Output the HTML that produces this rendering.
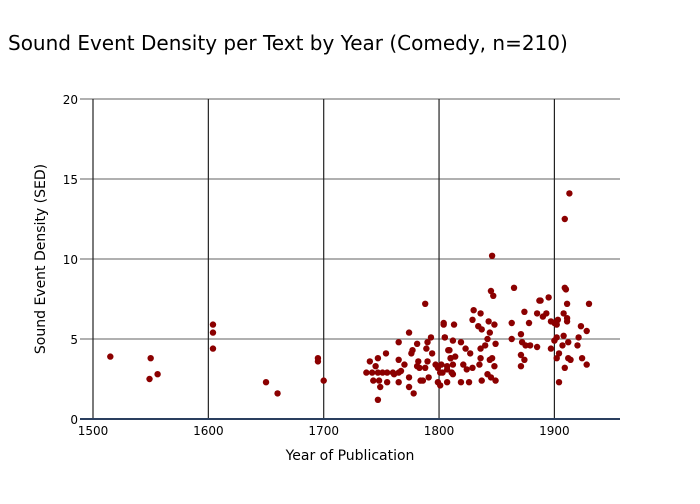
<!DOCTYPE html>
<html><head><meta charset="utf-8"><style>
body{margin:0;background:#fff;font-family:"DejaVu Sans","Liberation Sans",sans-serif}
</style></head><body>
<svg id="chart" width="700" height="500" xmlns="http://www.w3.org/2000/svg">
<rect width="700" height="500" fill="#fff"/>
<text x="8" y="50" font-size="20" fill="#000">Sound Event Density per Text by Year (Comedy, n=210)</text>
<g id="grid"></g><g id="ticks"></g><g id="points"></g>
<text x="350" y="460" font-size="14" text-anchor="middle" fill="#000">Year of Publication</text>
<text transform="translate(45,259) rotate(-90)" font-size="14" text-anchor="middle" fill="#000">Sound Event Density (SED)</text>
</svg>
<script>
const years=[1515,1550,1549,1556,1604,1604,1604,1650,1660,1695,1695,1700,1846,1913,1909,1788,
1737,1740,1742,1743,1745,1747,1747,1748,1749,1747,1751,1755,1754,1755,1760,1761,1765,1765,1765,1765,1767,1770,1774,1774,1774,1776,1777,1778,1781,1781,1782,1783,1784,1786,1788,1789,1790,1790,1791,1793,1794,1797,1799,1799,1801,1802,1804,1805,1807,1808,1810,1811,
1830,1836,1804,1813,1829,1834,1837,1843,1848,1844,1842,1849,1805,1812,1819,1823,1827,1836,1840,1809,1810,1814,1812,1807,1803,1811,1821,1824,1829,1835,1836,1844,1846,1848,1842,1845,1849,1837,1826,1819,1812,1807,1801,
1863,1863,1871,1872,1871,1874,1871,1875,1879,1885,1874,1878,1885,1890,1893,1897,1900,1887,1897,
1845,1847,1865,1888,1895,1909,1910,1911,1930,1908,1911,1911,1903,1902,1923,1928,1908,1902,1900,1912,1921,1920,1907,1904,1902,1914,1912,1924,1928,1909,1904];
const sed=[3.9,3.8,2.5,2.8,5.9,5.4,4.4,2.3,1.6,3.8,3.6,2.4,10.2,14.1,12.5,7.2,
2.9,3.6,2.9,2.4,3.3,3.8,2.9,2.4,2.0,1.2,2.9,2.3,4.1,2.9,2.9,2.8,2.9,3.7,2.3,4.8,3.0,3.4,5.4,2.6,2.0,4.1,4.3,1.6,3.3,4.7,3.6,3.2,2.4,2.4,3.2,4.4,3.6,4.8,2.6,5.1,4.1,3.4,2.3,3.2,2.9,3.4,5.9,5.1,3.1,4.3,3.8,2.9,
6.8,6.6,6.0,5.9,6.2,5.8,5.6,6.1,5.9,5.4,5.0,4.7,5.1,4.9,4.8,4.4,4.1,4.4,4.6,4.3,3.8,3.9,3.4,3.3,2.9,2.9,3.4,3.1,3.2,3.4,3.8,3.7,3.8,3.3,2.8,2.6,2.4,2.4,2.3,2.3,2.8,2.3,2.1,
6.0,5.0,5.3,4.8,4.0,3.7,3.3,4.6,4.6,4.5,6.7,6.0,6.6,6.4,6.6,6.1,6.0,7.4,4.4,
8.0,7.7,8.2,7.4,7.6,8.2,8.1,7.2,7.2,6.6,6.3,6.1,6.2,5.9,5.8,5.5,5.2,5.1,4.9,4.8,5.1,4.6,4.6,4.1,3.8,3.7,3.8,3.8,3.4,3.2,2.3];
const xTicks=[1500,1600,1700,1800,1900];
const yTicks=[0,5,10,15,20];
const NS='http://www.w3.org/2000/svg';
const X=v=>93+(v-1500)*1.1535;
const Y=v=>419-v*16;
function mk(tag,attrs,parent){const e=document.createElementNS(NS,tag);for(const k in attrs)e.setAttribute(k,attrs[k]);parent.appendChild(e);return e;}
const grid=document.getElementById('grid'),ticks=document.getElementById('ticks'),pts=document.getElementById('points');
yTicks.forEach(t=>{
  if(t>0){const l=mk('line',{x1:80,x2:620,y1:Y(t),y2:Y(t),stroke:'#808080','stroke-width':1.2},grid);
  
  }
  const tx=mk('text',{x:78,y:Y(t)+5,'font-size':12,'text-anchor':'end',fill:'#000'},ticks);tx.textContent=t;
  
  
});
xTicks.forEach(t=>{
  const l=mk('line',{x1:X(t),x2:X(t),y1:99,y2:419,stroke:'#222','stroke-width':1.2},grid);
  
  
  const tx=mk('text',{x:X(t),y:435,'font-size':12,'text-anchor':'middle',fill:'#000'},ticks);tx.textContent=t;
  
  
});
const ax=mk('line',{x1:80,x2:620,y1:419,y2:419,stroke:'#2a3f5f','stroke-width':2},grid);


years.forEach((yr,i)=>{
  const c=mk('circle',{cx:X(yr),cy:Y(sed[i]),r:3.2,fill:'#8b0000'},pts);
  
  
});
</script>
</body></html>
